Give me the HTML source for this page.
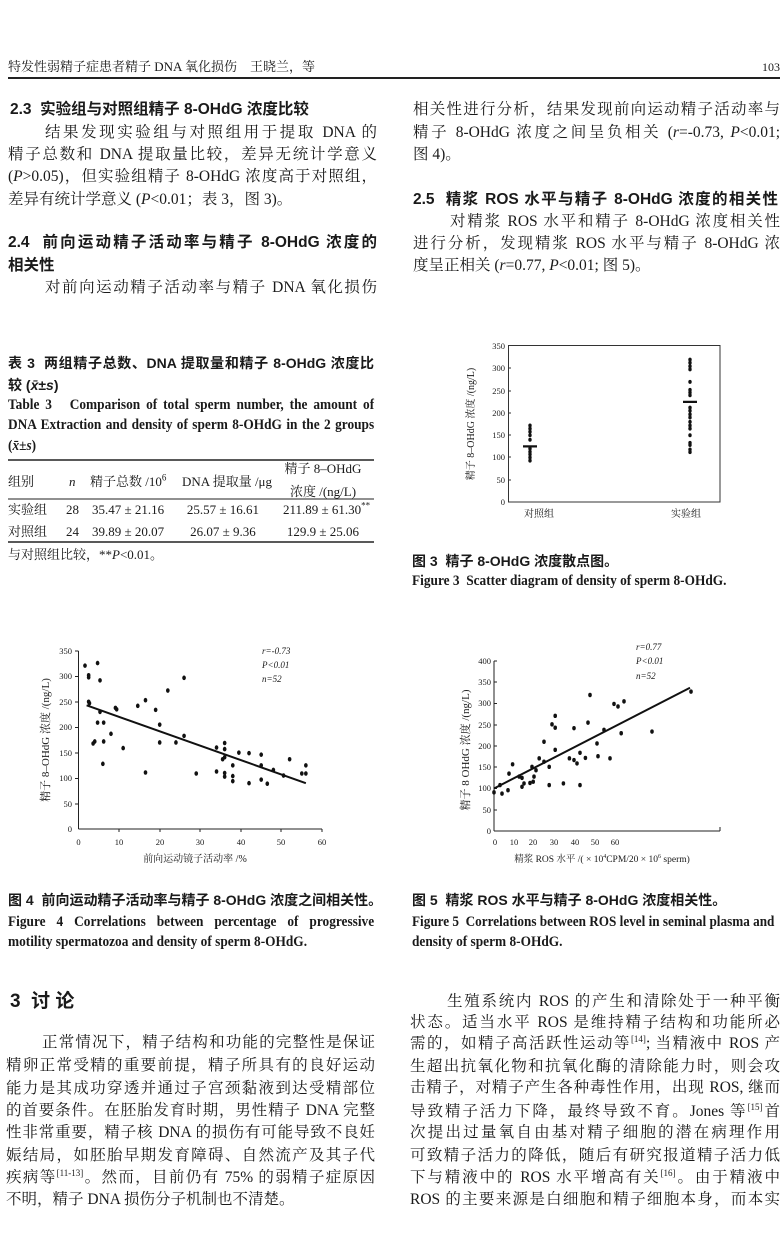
<!DOCTYPE html>
<html><head><meta charset="utf-8">
<style>
body{margin:0;background:#fff;}
#p{position:relative;width:784px;height:1252px;overflow:hidden;background:#fff;color:#1a1a1a;font-family:"Liberation Serif","Noto Serif CJK SC",serif;}
.l{position:absolute;font-size:15.5px;line-height:20px;white-space:nowrap;}
.j{text-align:justify;text-align-last:justify;white-space:normal;height:20px;overflow:hidden;}
.h{font-family:"Liberation Sans","Noto Sans CJK SC",sans-serif;font-weight:bold;font-size:15.5px;}
.c{font-family:"Liberation Sans","Noto Sans CJK SC",sans-serif;font-weight:bold;font-size:14px;}
.e{font-weight:bold;font-size:14.5px;transform:scaleX(0.92);transform-origin:0 0;}
.t{font-size:13px;}
svg{position:absolute;left:0;top:0;}
sup{font-size:9px;line-height:0;}
</style></head><body><div id="p">
<svg width="784" height="1252" viewBox="0 0 784 1252" font-family="Liberation Serif, Noto Serif CJK SC, serif" fill="#1a1a1a">
<line x1="8" y1="78" x2="780" y2="78" stroke="#222" stroke-width="2"/>
<line x1="8" y1="460" x2="374" y2="460" stroke="#222" stroke-width="1.6"/>
<line x1="8" y1="499" x2="374" y2="499" stroke="#222" stroke-width="1"/>
<line x1="8" y1="542" x2="374" y2="542" stroke="#222" stroke-width="1.6"/>
<!-- Fig 3 -->
<rect x="508.5" y="345.5" width="211.5" height="156.5" fill="none" stroke="#333" stroke-width="1"/>
<g font-size="8.5" text-anchor="end">
<text x="505" y="505">0</text><text x="505" y="483">50</text><text x="505" y="460">100</text><text x="505" y="438">150</text><text x="505" y="416">200</text><text x="505" y="394">250</text><text x="505" y="371">300</text><text x="505" y="349">350</text>
</g>
<g stroke="#333"><line x1="508" y1="480" x2="511" y2="480"/><line x1="508" y1="457" x2="511" y2="457"/><line x1="508" y1="435" x2="511" y2="435"/><line x1="508" y1="413" x2="511" y2="413"/><line x1="508" y1="391" x2="511" y2="391"/><line x1="508" y1="368" x2="511" y2="368"/></g>
<text transform="translate(474,424) rotate(-90)" font-size="10" text-anchor="middle">精子 8–OHdG 浓度 /(ng/L)</text>
<text x="539" y="517" font-size="10" text-anchor="middle">对照组</text>
<text x="686" y="517" font-size="10" text-anchor="middle">实验组</text>
<g transform="translate(0,502) scale(1,-0.445)">
<g fill="#111">
<ellipse cx="530" cy="93" rx="1.7" ry="4.5"/><ellipse cx="530" cy="100" rx="1.7" ry="4.5"/><ellipse cx="530" cy="107" rx="1.7" ry="4.5"/><ellipse cx="530" cy="113" rx="1.7" ry="4.5"/><ellipse cx="530" cy="120" rx="1.7" ry="4.5"/><ellipse cx="530" cy="140" rx="1.7" ry="4.5"/><ellipse cx="530" cy="150" rx="1.7" ry="4.5"/><ellipse cx="530" cy="158" rx="1.7" ry="4.5"/><ellipse cx="530" cy="165" rx="1.7" ry="4.5"/><ellipse cx="530" cy="172" rx="1.7" ry="4.5"/>
<ellipse cx="690" cy="112" rx="1.7" ry="4.5"/><ellipse cx="690" cy="118" rx="1.7" ry="4.5"/><ellipse cx="690" cy="128" rx="1.7" ry="4.5"/><ellipse cx="690" cy="133" rx="1.7" ry="4.5"/><ellipse cx="690" cy="150" rx="1.7" ry="4.5"/><ellipse cx="690" cy="165" rx="1.7" ry="4.5"/><ellipse cx="690" cy="172" rx="1.7" ry="4.5"/><ellipse cx="690" cy="180" rx="1.7" ry="4.5"/><ellipse cx="690" cy="190" rx="1.7" ry="4.5"/><ellipse cx="690" cy="197" rx="1.7" ry="4.5"/><ellipse cx="690" cy="205" rx="1.7" ry="4.5"/><ellipse cx="690" cy="212" rx="1.7" ry="4.5"/><ellipse cx="690" cy="240" rx="1.7" ry="4.5"/><ellipse cx="690" cy="246" rx="1.7" ry="4.5"/><ellipse cx="690" cy="252" rx="1.7" ry="4.5"/><ellipse cx="690" cy="270" rx="1.7" ry="4.5"/><ellipse cx="690" cy="298" rx="1.7" ry="4.5"/><ellipse cx="690" cy="305" rx="1.7" ry="4.5"/><ellipse cx="690" cy="313" rx="1.7" ry="4.5"/><ellipse cx="690" cy="320" rx="1.7" ry="4.5"/>
</g>
<line x1="523" y1="125" x2="537" y2="125" stroke="#111" stroke-width="5"/>
<line x1="683" y1="225" x2="697" y2="225" stroke="#111" stroke-width="5"/>
</g>
<!-- Fig 4 -->
<g stroke="#222" stroke-width="1">
<line x1="78.5" y1="651" x2="78.5" y2="829"/><line x1="78.5" y1="829" x2="322" y2="829"/>
<line x1="75" y1="651" x2="78.5" y2="651"/><line x1="75" y1="676.5" x2="78.5" y2="676.5"/><line x1="75" y1="702" x2="78.5" y2="702"/><line x1="75" y1="727.5" x2="78.5" y2="727.5"/><line x1="75" y1="753" x2="78.5" y2="753"/><line x1="75" y1="778.5" x2="78.5" y2="778.5"/><line x1="75" y1="804" x2="78.5" y2="804"/>
<line x1="119" y1="829" x2="119" y2="832"/><line x1="160" y1="829" x2="160" y2="832"/><line x1="200" y1="829" x2="200" y2="832"/><line x1="241" y1="829" x2="241" y2="832"/><line x1="281" y1="829" x2="281" y2="832"/><line x1="322" y1="829" x2="322" y2="832"/>
</g>
<g font-size="8.5" text-anchor="end">
<text x="72" y="832">0</text><text x="72" y="807">50</text><text x="72" y="781">100</text><text x="72" y="756">150</text><text x="72" y="730">200</text><text x="72" y="705">250</text><text x="72" y="679">300</text><text x="72" y="654">350</text>
</g>
<g font-size="8.5" text-anchor="middle">
<text x="78.5" y="845">0</text><text x="119" y="845">10</text><text x="160" y="845">20</text><text x="200" y="845">30</text><text x="241" y="845">40</text><text x="281" y="845">50</text><text x="322" y="845">60</text>
</g>
<text x="195" y="862" font-size="10" text-anchor="middle">前向运动镜子活动率 /%</text>
<text transform="translate(49,740) rotate(-90)" font-size="11" text-anchor="middle">精子 8–OHdG 浓度 /(ng/L)</text>
<g font-size="9" font-style="italic"><text x="262" y="654">r=-0.73</text><text x="262" y="668">P&lt;0.01</text><text x="262" y="682">n=52</text></g>
<g transform="translate(78.5,829) scale(4.06,-0.509)" fill="#111">
<line x1="2" y1="243" x2="56" y2="90" stroke="#111" vector-effect="non-scaling-stroke" style="stroke-width:2"/>
<ellipse cx="1.6" cy="321" rx="0.45" ry="4.5"/><ellipse cx="2.5" cy="302" rx="0.45" ry="4.5"/><ellipse cx="2.5" cy="298" rx="0.45" ry="4.5"/><ellipse cx="4.7" cy="326" rx="0.45" ry="4.5"/><ellipse cx="5.3" cy="292" rx="0.45" ry="4.5"/><ellipse cx="2.5" cy="250" rx="0.45" ry="4.5"/><ellipse cx="2.7" cy="247" rx="0.45" ry="4.5"/><ellipse cx="5.3" cy="230" rx="0.45" ry="4.5"/><ellipse cx="4.7" cy="209" rx="0.45" ry="4.5"/><ellipse cx="6.2" cy="209" rx="0.45" ry="4.5"/><ellipse cx="4" cy="172" rx="0.45" ry="4.5"/><ellipse cx="3.6" cy="168" rx="0.45" ry="4.5"/><ellipse cx="6.2" cy="172" rx="0.45" ry="4.5"/><ellipse cx="6" cy="128" rx="0.45" ry="4.5"/><ellipse cx="8" cy="187" rx="0.45" ry="4.5"/><ellipse cx="9.4" cy="235" rx="0.45" ry="4.5"/><ellipse cx="9.1" cy="238" rx="0.45" ry="4.5"/><ellipse cx="11" cy="159" rx="0.45" ry="4.5"/><ellipse cx="14.6" cy="242" rx="0.45" ry="4.5"/><ellipse cx="16.5" cy="253" rx="0.45" ry="4.5"/><ellipse cx="19" cy="234" rx="0.45" ry="4.5"/><ellipse cx="20" cy="205" rx="0.45" ry="4.5"/><ellipse cx="20" cy="170" rx="0.45" ry="4.5"/><ellipse cx="22" cy="272" rx="0.45" ry="4.5"/><ellipse cx="26" cy="297" rx="0.45" ry="4.5"/><ellipse cx="26" cy="183" rx="0.45" ry="4.5"/><ellipse cx="24" cy="170" rx="0.45" ry="4.5"/><ellipse cx="16.5" cy="111" rx="0.45" ry="4.5"/><ellipse cx="29" cy="109" rx="0.45" ry="4.5"/><ellipse cx="34" cy="160" rx="0.45" ry="4.5"/><ellipse cx="34" cy="113" rx="0.45" ry="4.5"/><ellipse cx="36" cy="169" rx="0.45" ry="4.5"/><ellipse cx="36" cy="157" rx="0.45" ry="4.5"/><ellipse cx="35.5" cy="137" rx="0.45" ry="4.5"/><ellipse cx="36" cy="141" rx="0.45" ry="4.5"/><ellipse cx="36" cy="110" rx="0.45" ry="4.5"/><ellipse cx="36" cy="103" rx="0.45" ry="4.5"/><ellipse cx="38" cy="125" rx="0.45" ry="4.5"/><ellipse cx="38" cy="104" rx="0.45" ry="4.5"/><ellipse cx="38" cy="94" rx="0.45" ry="4.5"/><ellipse cx="39.5" cy="150" rx="0.45" ry="4.5"/><ellipse cx="42" cy="149" rx="0.45" ry="4.5"/><ellipse cx="42" cy="90" rx="0.45" ry="4.5"/><ellipse cx="45" cy="146" rx="0.45" ry="4.5"/><ellipse cx="45" cy="125" rx="0.45" ry="4.5"/><ellipse cx="45" cy="97" rx="0.45" ry="4.5"/><ellipse cx="46.5" cy="89" rx="0.45" ry="4.5"/><ellipse cx="48" cy="116" rx="0.45" ry="4.5"/><ellipse cx="50.5" cy="105" rx="0.45" ry="4.5"/><ellipse cx="52" cy="137" rx="0.45" ry="4.5"/><ellipse cx="55" cy="109" rx="0.45" ry="4.5"/><ellipse cx="56" cy="125" rx="0.45" ry="4.5"/><ellipse cx="56" cy="109" rx="0.45" ry="4.5"/>
</g>
<!-- Fig 5 -->
<g stroke="#222" stroke-width="1">
<line x1="494" y1="661" x2="494" y2="831"/><line x1="494" y1="831" x2="720" y2="831"/>
<line x1="494" y1="661" x2="497" y2="661"/><line x1="494" y1="682" x2="497" y2="682"/><line x1="494" y1="703.5" x2="497" y2="703.5"/><line x1="494" y1="725" x2="497" y2="725"/><line x1="494" y1="746" x2="497" y2="746"/><line x1="494" y1="767" x2="497" y2="767"/><line x1="494" y1="788.5" x2="497" y2="788.5"/><line x1="494" y1="810" x2="497" y2="810"/>
<line x1="720" y1="827" x2="720" y2="831"/>
</g>
<g font-size="8.5" text-anchor="end">
<text x="491" y="834">0</text><text x="491" y="813">50</text><text x="491" y="791">100</text><text x="491" y="770">150</text><text x="491" y="749">200</text><text x="491" y="728">250</text><text x="491" y="706">300</text><text x="491" y="685">350</text><text x="491" y="664">400</text>
</g>
<g font-size="8.5" text-anchor="middle">
<text x="495" y="845">0</text><text x="514" y="845">10</text><text x="533" y="845">20</text><text x="554" y="845">30</text><text x="575" y="845">40</text><text x="595" y="845">50</text><text x="615" y="845">60</text>
</g>
<text x="602" y="862" font-size="9.5" text-anchor="middle">精浆 ROS 水平 /( × 10<tspan font-size="6" dy="-4">4</tspan><tspan dy="4">CPM/20 × 10</tspan><tspan font-size="6" dy="-4">6</tspan><tspan dy="4"> sperm)</tspan></text>
<text transform="translate(469,750) rotate(-90)" font-size="11" text-anchor="middle">精子 8 OHdG 浓度 /(ng/L)</text>
<g font-size="9" font-style="italic"><text x="636" y="650">r=0.77</text><text x="636" y="664">P&lt;0.01</text><text x="636" y="679">n=52</text></g>
<g transform="translate(494,831) scale(2,-0.425)" fill="#111">
<line x1="0" y1="100" x2="98" y2="337" stroke="#111" vector-effect="non-scaling-stroke" style="stroke-width:2"/>
<ellipse cx="0" cy="91" rx="0.9" ry="5.2"/><ellipse cx="3" cy="108" rx="0.9" ry="5.2"/><ellipse cx="4" cy="88" rx="0.9" ry="5.2"/><ellipse cx="7" cy="96" rx="0.9" ry="5.2"/><ellipse cx="7.5" cy="135" rx="0.9" ry="5.2"/><ellipse cx="9.3" cy="157" rx="0.9" ry="5.2"/><ellipse cx="12.6" cy="128" rx="0.9" ry="5.2"/><ellipse cx="14" cy="104" rx="0.9" ry="5.2"/><ellipse cx="15" cy="112" rx="0.9" ry="5.2"/><ellipse cx="14" cy="125" rx="0.9" ry="5.2"/><ellipse cx="18" cy="113" rx="0.9" ry="5.2"/><ellipse cx="19" cy="151" rx="0.9" ry="5.2"/><ellipse cx="19.6" cy="116" rx="0.9" ry="5.2"/><ellipse cx="20" cy="128" rx="0.9" ry="5.2"/><ellipse cx="21" cy="143" rx="0.9" ry="5.2"/><ellipse cx="22.6" cy="171" rx="0.9" ry="5.2"/><ellipse cx="25" cy="210" rx="0.9" ry="5.2"/><ellipse cx="25" cy="163" rx="0.9" ry="5.2"/><ellipse cx="27.6" cy="151" rx="0.9" ry="5.2"/><ellipse cx="27.6" cy="108" rx="0.9" ry="5.2"/><ellipse cx="29" cy="251" rx="0.9" ry="5.2"/><ellipse cx="30.6" cy="243" rx="0.9" ry="5.2"/><ellipse cx="30.6" cy="271" rx="0.9" ry="5.2"/><ellipse cx="30.6" cy="191" rx="0.9" ry="5.2"/><ellipse cx="34.7" cy="112" rx="0.9" ry="5.2"/><ellipse cx="37.7" cy="171" rx="0.9" ry="5.2"/><ellipse cx="40" cy="167" rx="0.9" ry="5.2"/><ellipse cx="40" cy="242" rx="0.9" ry="5.2"/><ellipse cx="41.5" cy="159" rx="0.9" ry="5.2"/><ellipse cx="43" cy="184" rx="0.9" ry="5.2"/><ellipse cx="43" cy="108" rx="0.9" ry="5.2"/><ellipse cx="45.7" cy="172" rx="0.9" ry="5.2"/><ellipse cx="47" cy="255" rx="0.9" ry="5.2"/><ellipse cx="48" cy="320" rx="0.9" ry="5.2"/><ellipse cx="51.5" cy="206" rx="0.9" ry="5.2"/><ellipse cx="52" cy="176" rx="0.9" ry="5.2"/><ellipse cx="55" cy="238" rx="0.9" ry="5.2"/><ellipse cx="58" cy="171" rx="0.9" ry="5.2"/><ellipse cx="60" cy="299" rx="0.9" ry="5.2"/><ellipse cx="62" cy="293" rx="0.9" ry="5.2"/><ellipse cx="63.6" cy="230" rx="0.9" ry="5.2"/><ellipse cx="65" cy="305" rx="0.9" ry="5.2"/><ellipse cx="79" cy="234" rx="0.9" ry="5.2"/><ellipse cx="98.5" cy="328" rx="0.9" ry="5.2"/>
</g>
</svg>

<div class="l" style="left:8px;top:57px;font-size:13px;">特发性弱精子症患者精子 DNA 氧化损伤　王晓兰，等</div>
<div class="l" style="left:762px;top:57px;font-size:12px;">103</div>

<div class="l h" style="left:10px;top:100px;">2.3&nbsp; 实验组与对照组精子 8-OHdG 浓度比较</div>
<div class="l j" style="left:45px;width:332px;top:123px;">结果发现实验组与对照组用于提取 DNA 的</div>
<div class="l j" style="left:8px;width:369px;top:145px;">精子总数和 DNA 提取量比较，差异无统计学意义</div>
<div class="l j" style="left:8px;width:369px;top:167px;">(<i>P</i>&gt;0.05)，但实验组精子 8-OHdG 浓度高于对照组，</div>
<div class="l" style="left:8px;top:190px;">差异有统计学意义 (<i>P</i>&lt;0.01；表 3，图 3)。</div>
<div class="l h j" style="left:8px;width:369px;top:233px;">2.4&nbsp; 前向运动精子活动率与精子 8-OHdG 浓度的</div>
<div class="l h" style="left:8px;top:256px;">相关性</div>
<div class="l j" style="left:45px;width:332px;top:278px;">对前向运动精子活动率与精子 DNA 氧化损伤</div>

<div class="l j" style="left:413px;width:367px;top:100px;">相关性进行分析，结果发现前向运动精子活动率与</div>
<div class="l j" style="left:413px;width:367px;top:123px;">精子 8-OHdG 浓度之间呈负相关 (<i>r</i>=-0.73, <i>P</i>&lt;0.01;</div>
<div class="l" style="left:413px;top:145px;">图 4)。</div>
<div class="l h j" style="left:413px;width:365px;top:190px;">2.5&nbsp; 精浆 ROS 水平与精子 8-OHdG 浓度的相关性</div>
<div class="l j" style="left:450px;width:330px;top:212px;">对精浆 ROS 水平和精子 8-OHdG 浓度相关性</div>
<div class="l j" style="left:413px;width:367px;top:234px;">进行分析，发现精浆 ROS 水平与精子 8-OHdG 浓</div>
<div class="l" style="left:413px;top:256px;">度呈正相关 (<i>r</i>=0.77, <i>P</i>&lt;0.01; 图 5)。</div>

<div class="l c j" style="left:8px;width:366px;top:353px;">表 3&nbsp; 两组精子总数、DNA 提取量和精子 8-OHdG 浓度比</div>
<div class="l c" style="left:8px;top:375px;">较 (<i>x̄</i>±<i>s</i>)</div>
<div class="l e j" style="left:8px;width:398px;top:395px;">Table 3&nbsp;&nbsp; Comparison of total sperm number, the amount of</div>
<div class="l e j" style="left:8px;width:398px;top:415px;">DNA Extraction and density of sperm 8-OHdG in the 2 groups</div>
<div class="l e" style="left:8px;top:436px;">(<i>x̄</i>±<i>s</i>)</div>
<div class="l t" style="left:8px;top:472px;">组别</div>
<div class="l t" style="left:69px;top:472px;"><i>n</i></div>
<div class="l t" style="left:90px;top:472px;">精子总数 /10<sup>6</sup></div>
<div class="l t" style="left:182px;top:472px;">DNA 提取量 /μg</div>
<div class="l t" style="left:282px;width:82px;text-align:center;top:459px;">精子 8–OHdG</div>
<div class="l t" style="left:282px;width:82px;text-align:center;top:482px;">浓度 /(ng/L)</div>
<div class="l t" style="left:8px;top:500px;">实验组</div>
<div class="l t" style="left:66px;top:500px;">28</div>
<div class="l t" style="left:92px;top:500px;">35.47 ± 21.16</div>
<div class="l t" style="left:183px;width:80px;text-align:center;top:500px;">25.57 ± 16.61</div>
<div class="l t" style="left:283px;top:500px;">211.89 ± 61.30<sup>**</sup></div>
<div class="l t" style="left:8px;top:522px;">对照组</div>
<div class="l t" style="left:66px;top:522px;">24</div>
<div class="l t" style="left:92px;top:522px;">39.89 ± 20.07</div>
<div class="l t" style="left:183px;width:80px;text-align:center;top:522px;">26.07 ± 9.36</div>
<div class="l t" style="left:282px;width:82px;text-align:center;top:522px;">129.9 ± 25.06</div>
<div class="l t" style="left:8px;top:545px;">与对照组比较，**<i>P</i>&lt;0.01。</div>

<div class="l c" style="left:412px;top:551px;">图 3&nbsp; 精子 8-OHdG 浓度散点图。</div>
<div class="l e" style="left:412px;top:571px;">Figure 3&nbsp; Scatter diagram of density of sperm 8-OHdG.</div>

<div class="l c" style="left:8px;top:890px;">图 4&nbsp; 前向运动精子活动率与精子 8-OHdG 浓度之间相关性。</div>
<div class="l e j" style="left:8px;width:398px;top:912px;">Figure 4 Correlations between percentage of progressive</div>
<div class="l e" style="left:8px;top:932px;">motility spermatozoa and density of sperm 8-OHdG.</div>
<div class="l c" style="left:412px;top:890px;">图 5&nbsp; 精浆 ROS 水平与精子 8-OHdG 浓度相关性。</div>
<div class="l e" style="left:412px;top:912px;transform:scaleX(0.91);">Figure 5&nbsp; Correlations between ROS level in seminal plasma and</div>
<div class="l e" style="left:412px;top:932px;">density of sperm 8-OHdG.</div>

<div class="l h" style="left:10px;top:991px;font-size:19px;line-height:22px;">3&nbsp; 讨&nbsp;论</div>
<div class="l j" style="left:42px;width:333px;top:1033px;">正常情况下，精子结构和功能的完整性是保证</div>
<div class="l j" style="left:6px;width:369px;top:1056px;">精卵正常受精的重要前提，精子所具有的良好运动</div>
<div class="l j" style="left:6px;width:369px;top:1079px;">能力是其成功穿透并通过子宫颈黏液到达受精部位</div>
<div class="l j" style="left:6px;width:369px;top:1101px;">的首要条件。在胚胎发育时期，男性精子 DNA 完整</div>
<div class="l j" style="left:6px;width:369px;top:1123px;">性非常重要，精子核 DNA 的损伤有可能导致不良妊</div>
<div class="l j" style="left:6px;width:369px;top:1146px;">娠结局，如胚胎早期发育障碍、自然流产及其子代</div>
<div class="l j" style="left:6px;width:369px;top:1168px;">疾病等<sup>[11-13]</sup>。然而，目前仍有 75% 的弱精子症原因</div>
<div class="l" style="left:6px;top:1190px;">不明，精子 DNA 损伤分子机制也不清楚。</div>

<div class="l j" style="left:447px;width:333px;top:992px;">生殖系统内 ROS 的产生和清除处于一种平衡</div>
<div class="l j" style="left:410px;width:370px;top:1013px;">状态。适当水平 ROS 是维持精子结构和功能所必</div>
<div class="l j" style="left:410px;width:370px;top:1034px;">需的，如精子高活跃性运动等<sup>[14]</sup>; 当精液中 ROS 产</div>
<div class="l j" style="left:410px;width:370px;top:1057px;">生超出抗氧化物和抗氧化酶的清除能力时，则会攻</div>
<div class="l j" style="left:410px;width:370px;top:1078px;">击精子，对精子产生各种毒性作用，出现 ROS, 继而</div>
<div class="l j" style="left:410px;width:370px;top:1102px;">导致精子活力下降，最终导致不育。Jones 等<sup>[15]</sup>首</div>
<div class="l j" style="left:410px;width:370px;top:1123px;">次提出过量氧自由基对精子细胞的潜在病理作用</div>
<div class="l j" style="left:410px;width:370px;top:1146px;">可致精子活力的降低，随后有研究报道精子活力低</div>
<div class="l j" style="left:410px;width:370px;top:1168px;">下与精液中的 ROS 水平增高有关<sup>[16]</sup>。由于精液中</div>
<div class="l j" style="left:410px;width:370px;top:1190px;">ROS 的主要来源是白细胞和精子细胞本身，而本实</div>
</div></body></html>
